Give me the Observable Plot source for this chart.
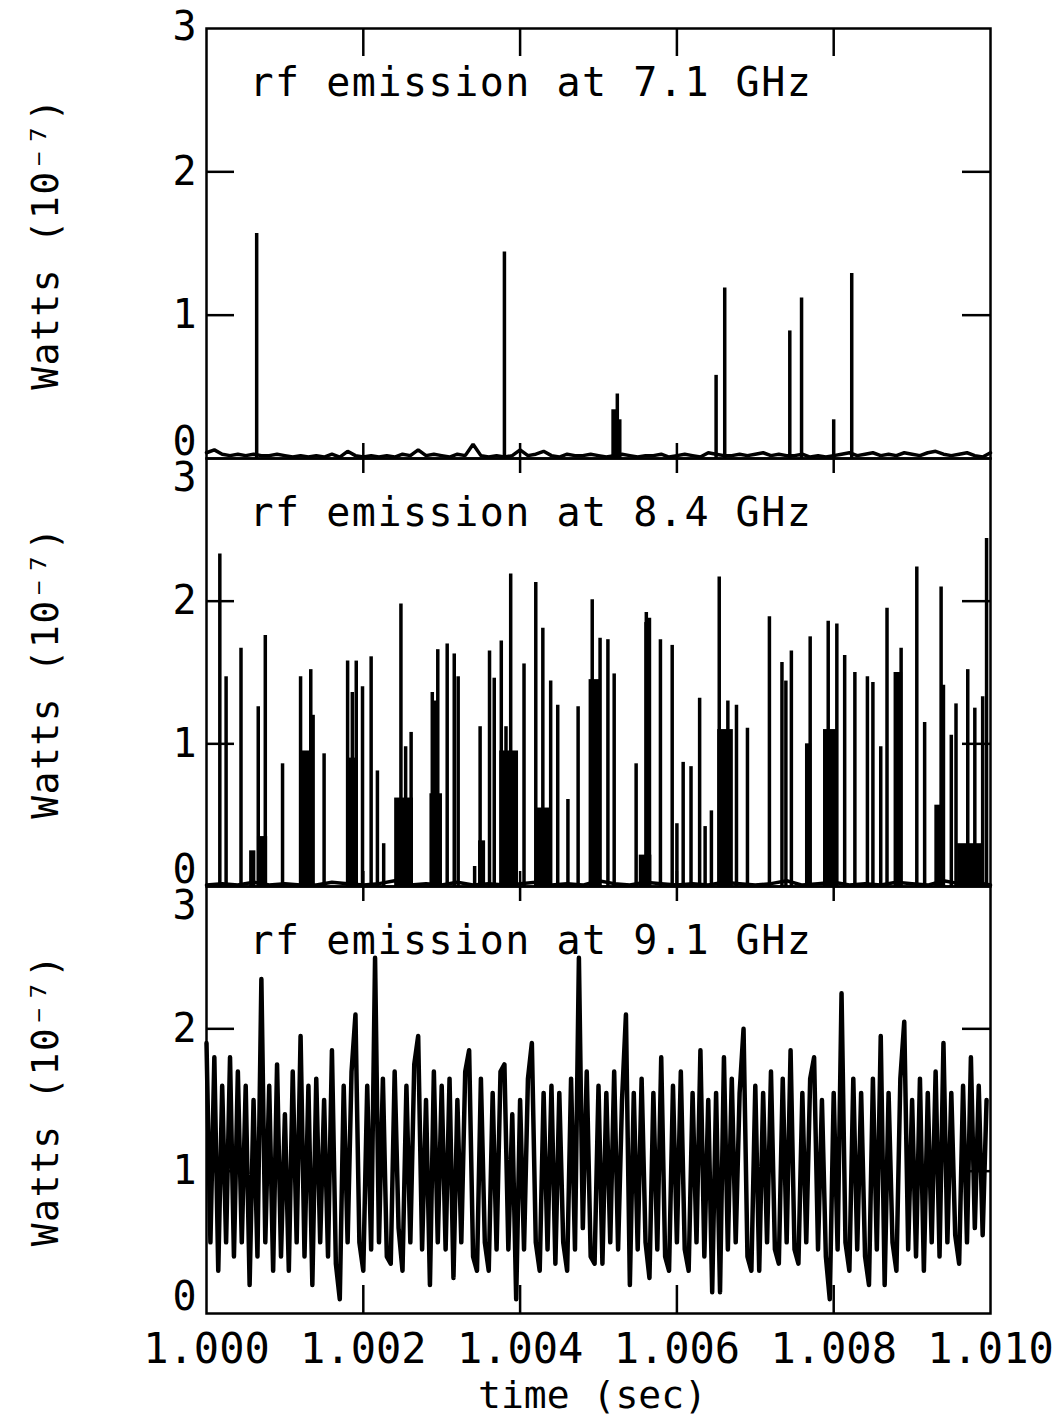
<!DOCTYPE html>
<html><head><meta charset="utf-8">
<script src="https://cdn.jsdelivr.net/npm/d3@7"></script>
<script src="https://cdn.jsdelivr.net/npm/@observablehq/plot@0.6"></script>
<style>
html,body{margin:0;padding:0;background:#fff;}
#chart{position:relative;width:1054px;height:1416px;overflow:hidden;}
#chart svg{position:absolute;left:0;}
</style></head><body><div id="chart"></div>
<script>
// ---------- axes / labels ----------
const xTicks = [1.000, 1.002, 1.004, 1.006, 1.008, 1.010];
const xTickLabels = ["1.000", "1.002", "1.004", "1.006", "1.008", "1.010"];
const yTicks = [0, 1, 2, 3];
const titles = ["rf emission at 7.1 GHz", "rf emission at 8.4 GHz", "rf emission at 9.1 GHz"];
const yLabel = "Watts (10⁻⁷)";
const xLabel = "time (sec)";
const T0 = 1.000; // s

// ---------- 7.1 GHz (times in ms after 1.000 s, power in 1e-7 W) ----------
const spikeT71 = [0.64, 3.80, 5.24, 6.50, 6.61, 7.44, 7.59, 8.00, 8.23];
const spikeV71 = [1.57, 1.44, 0.45, 0.58, 1.19, 0.89, 1.12, 0.27, 1.29];
const humpStart71 = [5.17, 5.24];
const humpEnd71 = [5.24, 5.30];
const humpV71 = [0.34, 0.27];
const noiseStep71 = 0.1; // ms
const noise71 = [
  0.04,0.06,0.03,0.02,0.03,0.02,0.03,0.02,0.02,0.03,
  0.02,0.01,0.02,0.01,0.02,0.01,0.03,0.01,0.05,0.02,
  0.01,0.02,0.01,0.02,0.01,0.03,0.02,0.06,0.02,0.03,
  0.02,0.01,0.03,0.02,0.10,0.02,0.01,0.02,0.01,0.02,
  0.06,0.02,0.03,0.05,0.02,0.01,0.03,0.02,0.02,0.03,
  0.02,0.01,0.02,0.03,0.02,0.01,0.02,0.02,0.03,0.01,
  0.02,0.03,0.02,0.01,0.04,0.03,0.02,0.02,0.03,0.02,
  0.03,0.04,0.02,0.03,0.02,0.02,0.03,0.01,0.02,0.01,
  0.02,0.03,0.04,0.02,0.03,0.04,0.02,0.03,0.02,0.04,
  0.03,0.02,0.04,0.05,0.03,0.02,0.03,0.04,0.02,0.01,0.04];

// ---------- 8.4 GHz ----------
const spikeT84 = [
  0.17,0.25,0.44,0.66,0.75,0.97,1.20,1.33,1.36,1.50,
  1.80,1.86,1.91,1.99,2.10,2.18,2.26,2.48,2.54,2.61,
  2.88,2.95,3.07,3.16,3.21,3.42,3.49,3.61,3.67,3.76,
  3.82,3.88,4.05,4.20,4.29,4.39,4.48,4.61,4.74,4.92,
  5.02,5.12,5.20,5.48,5.61,5.65,5.79,5.94,6.00,6.08,
  6.18,6.29,6.36,6.44,6.54,6.65,6.76,6.90,7.18,7.34,
  7.39,7.46,7.70,7.93,8.04,8.14,8.27,8.43,8.50,8.60,
  8.68,8.86,9.06,9.16,9.37,9.40,9.50,9.56,9.71,9.80,
  9.90,9.95];
const spikeV84 = [
  2.33,1.47,1.67,1.26,1.76,0.86,1.47,1.52,1.20,0.93,
  1.58,1.36,1.58,1.40,1.61,0.81,0.30,1.98,0.98,1.08,
  1.36,1.66,1.70,1.63,1.47,0.14,1.12,1.65,1.46,1.72,
  1.12,2.19,1.56,2.13,1.81,1.44,1.27,0.61,1.26,2.01,
  1.74,1.73,1.49,0.86,1.92,1.88,1.73,1.69,0.44,0.87,
  0.84,1.32,0.42,0.53,2.17,1.30,1.27,1.11,1.89,1.57,
  1.44,1.65,1.75,1.86,1.84,1.62,1.50,1.47,1.43,0.98,
  1.95,1.67,2.24,1.15,2.10,1.41,1.06,1.28,1.52,1.25,
  1.33,2.44];
const humpStart84 = [0.55,0.65,1.21,1.80,2.40,2.85,2.87,3.47,3.74,4.20,4.88,5.52,5.59,6.52,7.64,7.87,8.77,9.29,9.58];
const humpEnd84   = [0.63,0.78,1.35,1.93,2.64,3.01,2.97,3.56,3.98,4.40,5.03,5.68,5.66,6.72,7.72,8.06,8.88,9.38,9.90];
const humpV84     = [0.25,0.35,0.95,0.90,0.62,0.65,1.30,0.32,0.95,0.55,1.45,0.22,1.85,1.10,1.00,1.10,1.50,0.57,0.30];
const noiseStep84 = 0.2; // ms
const noise84 = [
  0.01,0.02,0.01,0.03,0.01,0.02,0.01,0.01,0.03,0.02,
  0.01,0.02,0.04,0.01,0.02,0.01,0.03,0.01,0.02,0.01,
  0.02,0.03,0.01,0.02,0.01,0.04,0.02,0.01,0.03,0.02,
  0.01,0.02,0.01,0.03,0.02,0.01,0.02,0.04,0.01,0.02,
  0.03,0.01,0.02,0.01,0.03,0.02,0.01,0.04,0.02,0.03,0.01];

// ---------- 9.1 GHz (sampled trace) ----------
const sampleStep91 = 0.05; // ms
const trace91 = [
  1.9,0.5,1.8,0.3,1.6,0.5,1.8,0.4,1.7,0.5,
  1.6,0.2,1.5,0.4,2.35,0.5,1.6,0.3,1.75,0.4,
  1.4,0.3,1.7,0.5,1.95,0.4,1.6,0.2,1.65,0.5,
  1.5,0.4,1.85,0.35,0.1,1.6,0.5,1.7,2.1,0.5,
  0.3,1.6,0.45,2.5,0.5,1.65,0.4,0.35,1.7,0.6,
  0.3,1.6,0.5,1.75,1.95,0.45,1.5,0.2,1.7,0.5,
  1.6,0.45,1.65,0.25,1.5,0.5,1.7,1.85,0.4,0.3,
  1.65,0.5,0.3,1.55,0.45,1.7,1.75,0.45,1.4,0.1,
  1.5,0.45,1.65,1.9,0.5,0.3,1.55,0.45,1.6,0.35,
  1.55,0.5,0.3,1.65,0.45,2.5,0.6,1.7,0.4,0.35,
  1.6,0.35,1.55,0.5,1.7,0.45,1.5,2.1,0.2,1.55,
  0.45,1.65,0.5,0.25,1.55,0.45,1.8,0.4,0.3,1.6,
  0.5,1.7,0.45,0.3,1.55,0.5,1.85,0.4,1.5,0.15,
  1.55,0.15,1.8,0.45,1.65,0.5,1.55,2.0,0.4,0.3,
  1.6,0.3,1.55,0.5,1.7,0.45,0.35,1.65,0.5,1.85,
  0.45,0.35,1.55,0.5,1.65,1.8,0.45,1.5,0.4,0.1,
  1.55,0.45,2.25,0.5,0.3,1.65,0.45,1.55,0.4,0.2,
  1.65,0.45,1.95,0.2,1.55,0.5,0.3,1.65,2.05,0.45,
  1.5,0.4,1.65,0.3,1.55,0.5,1.7,0.4,1.9,0.5,
  1.55,0.55,0.35,1.6,0.5,1.8,0.6,1.6,0.55,1.5];

// ---------- helpers ----------
const ms = m => T0 + m / 1000;
const FONT = "DejaVu Sans Mono";
const W = 1054, ML = 206, MR = 64;
const innerW = W - ML - MR;

function spikeMarks(T, V) {
  const idx = d3.range(T.length);
  return Plot.ruleX(idx, {x: i => ms(T[i]), y1: 0, y2: i => V[i], strokeWidth: 3.5, stroke: "black"});
}
function humpMarks(S, E, V) {
  const idx = d3.range(S.length);
  return Plot.rect(idx, {x1: i => ms(S[i]), x2: i => ms(E[i]), y1: 0, y2: i => V[i], fill: "black"});
}
function sampledLine(vals, step, sw, join) {
  return Plot.line(vals, {x: (d, i) => ms(i * step), y: d => d, stroke: "black", strokeWidth: sw, strokeLinejoin: join || "miter"});
}

function panel({top, mt, frameH, mb, title, dataMarks, first, last}) {
  const lbl = {frameAnchor: "left", dx: -10, textAnchor: "end", fontSize: 40, text: d => String(d)};
  const marks = [
    ...dataMarks,
    Plot.frame({stroke: "black", strokeWidth: 2.5}),
    Plot.ruleX(xTicks.slice(1, -1), {x: d => d, insetBottom: frameH - (first ? 28 : 15), strokeWidth: 2.5}),
    Plot.ruleX(xTicks.slice(1, -1), {x: d => d, insetTop: frameH - (last ? 28 : 15), strokeWidth: 2.5}),
    Plot.ruleY(yTicks.slice(1, -1), {y: d => d, insetRight: innerW - 28, strokeWidth: 2.5}),
    Plot.ruleY(yTicks.slice(1, -1), {y: d => d, insetLeft: innerW - 28, strokeWidth: 2.5}),
    Plot.text(yTicks.slice(1, -1), {...lbl, y: d => d, lineAnchor: "middle"}),
    Plot.text(yTicks.slice(0, 1), {...lbl, y: d => d, lineAnchor: "bottom", dy: -4}),
    Plot.text(yTicks.slice(-1), {...lbl, y: d => d, lineAnchor: "top", dy: first ? -17 : 4}),
    Plot.text([title], {frameAnchor: "top-left", dx: 43, dy: 67, lineAnchor: "bottom", textAnchor: "start", fontSize: 40, text: d => d}),
    Plot.text([yLabel], {frameAnchor: "left", dx: -161, rotate: -90, textAnchor: "middle", lineAnchor: "middle", fontSize: 38, text: d => d})
  ];
  if (last) {
    marks.push(Plot.text(xTicks, {x: d => d, frameAnchor: "bottom", dy: 49, lineAnchor: "bottom", fontSize: 42, text: (d, i) => xTickLabels[i]}));
    marks.push(Plot.text([xLabel], {frameAnchor: "bottom", dx: -6, dy: 94, lineAnchor: "bottom", fontSize: 38, text: d => d}));
  }
  const svg = Plot.plot({
    width: W, height: mt + frameH + mb,
    marginLeft: ML, marginRight: MR, marginTop: mt, marginBottom: mb,
    x: {domain: [xTicks[0], xTicks[xTicks.length - 1]], axis: null},
    y: {domain: [yTicks[0], yTicks[yTicks.length - 1]], axis: null},
    style: {fontFamily: FONT, background: "transparent", color: "black", overflow: "visible"},
    marks
  });
  svg.style.top = top + "px";
  svg.querySelectorAll("text").forEach(t => {
    if (t.textContent === title) t.setAttribute("letter-spacing", "1.5");
    if (t.textContent === yLabel) t.setAttribute("letter-spacing", "1.5");
  });
  document.getElementById("chart").appendChild(svg);
}

panel({top: 0, mt: 28, frameH: 430, mb: 30, title: titles[0], first: true, last: false,
  dataMarks: [sampledLine(noise71, noiseStep71, 3.5), humpMarks(humpStart71, humpEnd71, humpV71), spikeMarks(spikeT71, spikeV71)]});
panel({top: 418, mt: 40, frameH: 428, mb: 30, title: titles[1], first: false, last: false,
  dataMarks: [sampledLine(noise84, noiseStep84, 3.5), humpMarks(humpStart84, humpEnd84, humpV84), spikeMarks(spikeT84, spikeV84)]});
panel({top: 846, mt: 40, frameH: 427, mb: 103, title: titles[2], first: false, last: true,
  dataMarks: [sampledLine(trace91, sampleStep91, 4.5, "round")]});
</script></body></html>
